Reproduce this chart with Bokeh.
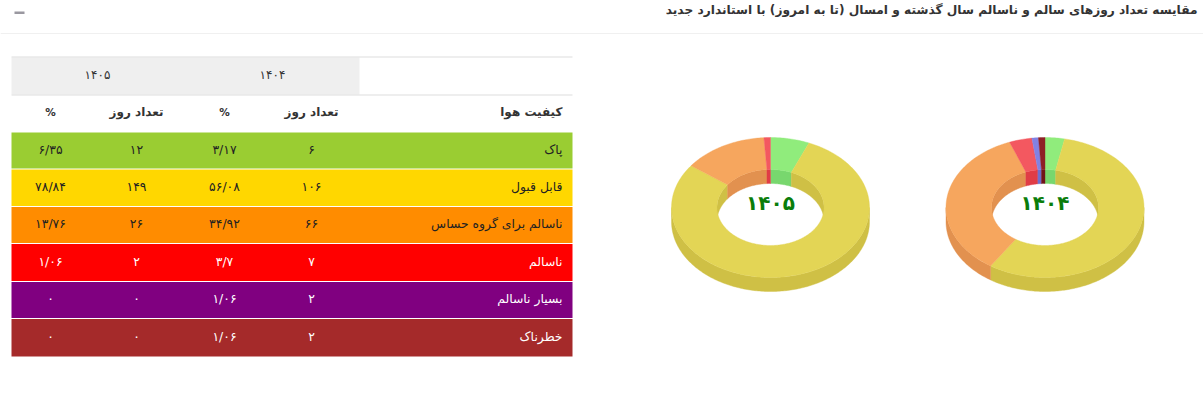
import numpy as np
from bokeh.plotting import figure
from bokeh.models import Range1d
from bokeh.embed import file_html
from bokeh.resources import INLINE
from bokeh.core.properties import value

TITLE = "مقایسه تعداد روزهای سالم و ناسالم سال گذشته و امسال (تا به امروز) با استاندارد جدید"
YEARS = ["۱۴۰۴", "۱۴۰۵"]
HEAD_QUALITY = "کیفیت هوا"
HEAD_DAYS = "تعداد روز"
HEAD_PCT = "%"
QUALITY = ["پاک", "قابل قبول", "ناسالم برای گروه حساس", "ناسالم", "بسیار ناسالم", "خطرناک"]
ROW_COLORS = ["#9ACD32", "#FFD700", "#FF8C00", "#FF0000", "#800080", "#A52A2A"]
TEXT_COLORS = ["#222222", "#222222", "#222222", "#ffffff", "#ffffff", "#ffffff"]
DAYS_1404 = [6, 106, 66, 7, 2, 2]
DAYS_1405 = [12, 149, 26, 2, 0, 0]
PCT_1404 = ["۳/۱۷", "۵۶/۰۸", "۳۴/۹۲", "۳/۷", "۱/۰۶", "۱/۰۶"]
PCT_1405 = ["۶/۳۵", "۷۸/۸۴", "۱۳/۷۶", "۱/۰۶", "۰", "۰"]
TOP_COLORS = ["#90EC7C", "#E3D555", "#F6A65E", "#F35860", "#8282E2", "#8E2026"]
SIDE_COLORS = ["#78D76E", "#CFC045", "#E2914F", "#E03C46", "#6E6ED0", "#701418"]

FONT = value("DejaVu Sans")
FA = str.maketrans("0123456789", "۰۱۲۳۴۵۶۷۸۹")


def fa(n):
    return str(n).translate(FA)


W, H = 1203, 401
p = figure(width=W, height=H, x_range=Range1d(0, W), y_range=Range1d(H, 0),
           output_backend="svg", toolbar_location=None, min_border=0)
p.axis.visible = False
p.grid.visible = False
p.outline_line_color = None
p.background_fill_color = "#ffffff"
p.border_fill_color = "#ffffff"

# header strip
p.segment([0], [33], [W], [33], line_color="#f0f0f0", line_width=1)
p.quad(left=[14], right=[24], top=[11], bottom=[13.5], fill_color="#9a98a0", line_color=None)
p.text([1197], [9.5], text=[TITLE], text_align="right", text_baseline="middle",
       text_font=FONT, text_font_style="bold", text_font_size="12.2px", text_color="#333333")

# table
TX0, TX1 = 11, 572
ROW_TOPS = [132, 169, 206.5, 243.5, 281.5, 318.5]
ROW_BOTS = [168, 205.5, 242.5, 280.5, 317.5, 356]
COL_PCT5, COL_DAY5, COL_PCT4, COL_DAY4 = 50, 136, 224, 311
p.quad(left=[TX0], right=[359], top=[57], bottom=[94], fill_color="#efefef", line_color=None)
for y in (56.5, 94.5):
    p.segment([TX0], [y], [TX1], [y], line_color="#dddddd", line_width=1)
p.text([272, 97], [74.5, 74.5], text=YEARS, text_align="center", text_baseline="middle",
       text_font=FONT, text_font_size="12px", text_color="#333333")
hy = 111
p.text([562], [hy], text=[HEAD_QUALITY], text_align="right", text_baseline="middle",
       text_font=FONT, text_font_style="bold", text_font_size="12px", text_color="#333333")
p.text([COL_DAY4, COL_DAY5], [hy, hy], text=[HEAD_DAYS, HEAD_DAYS], text_align="center", text_baseline="middle",
       text_font=FONT, text_font_style="bold", text_font_size="12px", text_color="#333333")
p.text([COL_PCT4, COL_PCT5], [hy, hy], text=[HEAD_PCT, HEAD_PCT], text_align="center", text_baseline="middle",
       text_font=FONT, text_font_style="bold", text_font_size="10.5px", text_color="#333333")
p.quad(left=[TX0] * 6, right=[TX1] * 6, top=ROW_TOPS, bottom=ROW_BOTS, fill_color=ROW_COLORS, line_color=None)
for i in range(6):
    y = (ROW_TOPS[i] + ROW_BOTS[i]) / 2 - 1.5
    c = TEXT_COLORS[i]
    p.text([562], [y], text=[QUALITY[i]], text_align="right", text_baseline="middle",
           text_font=FONT, text_font_size="12.4px", text_color=c)
    xs = [COL_DAY4, COL_PCT4, COL_DAY5, COL_PCT5]
    ts = [fa(DAYS_1404[i]), PCT_1404[i], fa(DAYS_1405[i]), PCT_1405[i]]
    p.text(xs, [y] * 4, text=ts, text_align="center", text_baseline="middle",
           text_font=FONT, text_font_size="12.4px", text_color=c)

# 3D donuts
RX, RY, IRX, IRY, CY, DEPTH = 99, 70, 53.5, 38, 207, 14


def arc(cx, cy, rx, ry, a0, a1):
    n = max(2, int(abs(a1 - a0) * 60) + 2)
    t = np.linspace(a0, a1, n)
    return cx + rx * np.sin(t), cy - ry * np.cos(t)


def poly(xs, ys, color):
    p.patch(xs, ys, fill_color=color, line_color=color, line_width=0.4)


def donut(cx, days, label):
    edges = np.cumsum([0] + days) / sum(days) * 2 * np.pi
    parts = [(edges[i], edges[i + 1], i) for i in range(len(days)) if days[i] > 0]
    # outer wall: lower half of the ring
    for a0, a1, i in parts:
        lo, hi = max(a0, np.pi / 2), min(a1, 3 * np.pi / 2)
        if hi > lo:
            x, y = arc(cx, CY, RX, RY, lo, hi)
            poly(np.r_[x, x[::-1]], np.r_[y, (y + DEPTH)[::-1]], SIDE_COLORS[i])
    # inner wall: upper half of the hole
    for a0, a1, i in parts:
        for lo, hi in ((a0, min(a1, np.pi / 2)), (max(a0, 3 * np.pi / 2), a1)):
            if hi > lo:
                x, y = arc(cx, CY, IRX, IRY, lo, hi)
                poly(np.r_[x, x[::-1]], np.r_[y, (y + DEPTH)[::-1]], SIDE_COLORS[i])
    # top face
    for a0, a1, i in parts:
        xo, yo = arc(cx, CY, RX, RY, a0, a1)
        xi, yi = arc(cx, CY, IRX, IRY, a0, a1)
        poly(np.r_[xo, xi[::-1]], np.r_[yo, yi[::-1]], TOP_COLORS[i])
    p.text([cx], [202], text=[label], text_align="center", text_baseline="middle",
           text_font=FONT, text_font_style="bold", text_font_size="20px", text_color="#0a7d0a")


donut(1044.5, DAYS_1404, YEARS[0])
donut(770, DAYS_1405, YEARS[1])

open("out.html", "w").write(file_html(p, INLINE))
